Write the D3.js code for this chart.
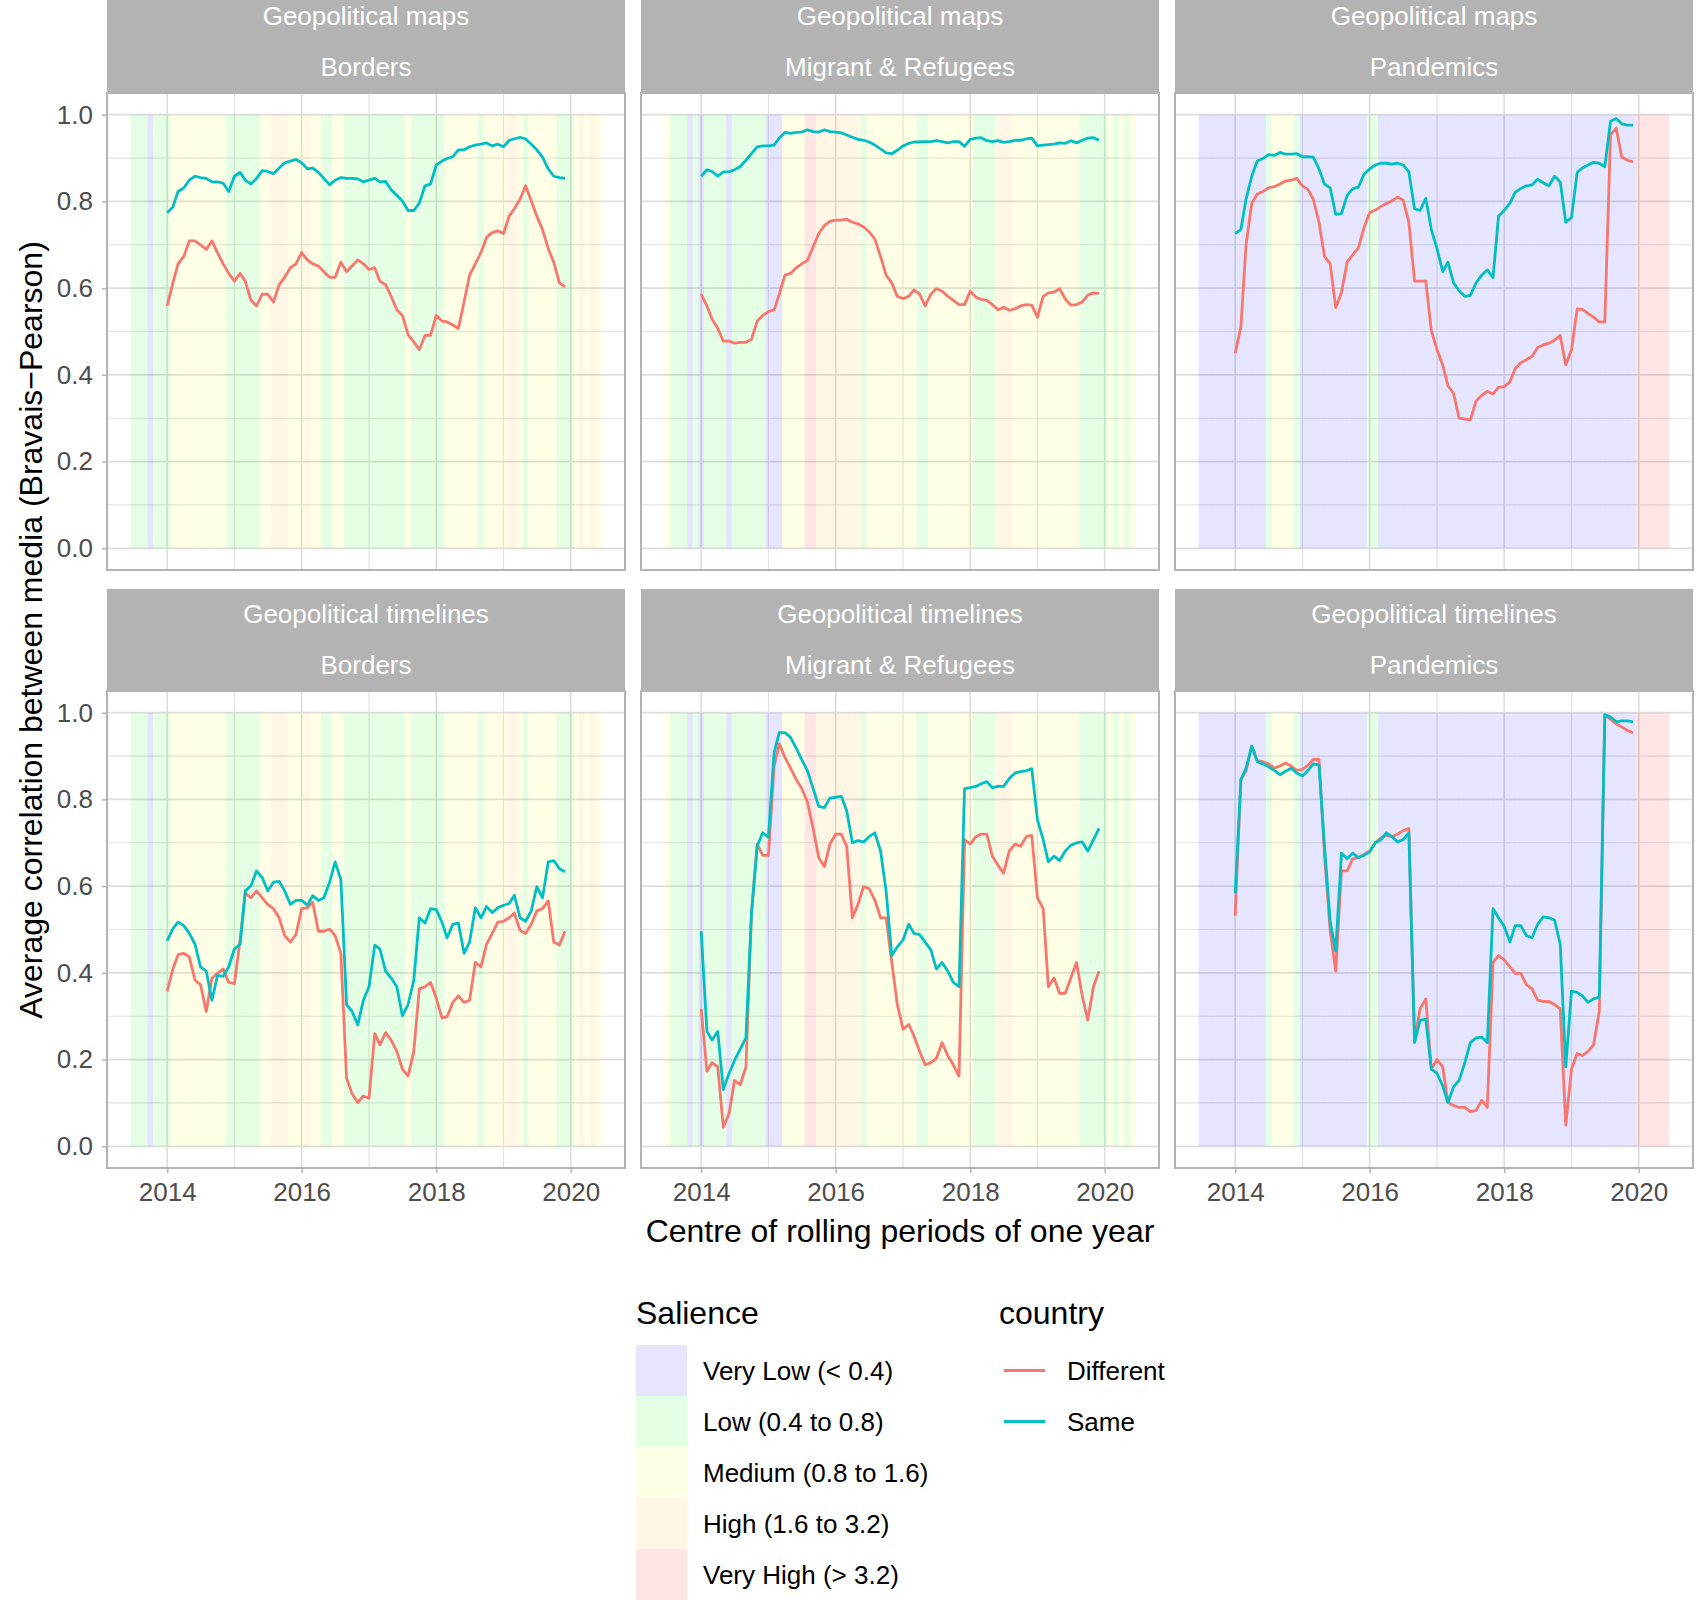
<!DOCTYPE html>
<html>
<head>
<meta charset="utf-8">
<script src="https://cdn.jsdelivr.net/npm/d3@7"></script>
<style>
  body { margin: 0; background: #fff; }
  text { font-family: "Liberation Sans", Arial, sans-serif; }
</style>
</head>
<body>
<svg id="chart" width="1699" height="1600"></svg>
<script>
// facet labels
var rowLabels = ["Geopolitical maps", "Geopolitical timelines"];
var topicLabels = ["Borders", "Migrant & Refugees", "Pandemics"];

// legend
var salienceLabels = ["Very Low (< 0.4)", "Low (0.4 to 0.8)", "Medium (0.8 to 1.6)", "High (1.6 to 3.2)", "Very High (> 3.2)"];
var salienceColours = ["#0000ff", "#00ff00", "#ffff00", "#ffa500", "#ff0000"];
var countryLabels = ["Different", "Same"];
var countryColours = ["#F8766D", "#00BFC4"];

// axes
var xMajorYears = [2014, 2016, 2018, 2020];
var xMinorYears = [2015, 2017, 2019];
var yMajor = [0, 0.2, 0.4, 0.6, 0.8, 1.0];
var yMinor = [0.1, 0.3, 0.5, 0.7, 0.9];

// salience tiles: one per month from Jul 2013 to Jun 2020 (0 = Very Low ... 4 = Very High)
var salienceBorders = [1,1,1,0,1,1,1,2,2,2,2,2,2,2,2,2,2,1,1,1,1,1,1,2,2,3,3,3,2,2,2,3,2,2,1,1,2,2,
  1,1,1,1,1,1,1,1,1,1,1,2,1,1,1,1,1,1,2,2,2,2,2,2,1,2,2,2,2,3,3,2,1,2,2,2,2,2,1,1,1,2,3,2,3,2];
var salienceMigrants = [2,1,1,1,0,1,0,1,1,1,1,0,1,1,1,1,1,1,0,0,0,2,2,2,2,4,4,3,3,3,3,3,3,3,3,1,
  2,2,2,2,2,2,2,2,2,1,1,2,2,2,2,2,2,2,2,1,1,1,1,3,3,3,2,2,2,2,2,2,2,2,2,2,2,2,1,1,1,1,1,2,1,2,1,2];
var saliencePandemics = [0,0,0,0,0,0,0,0,0,0,0,0,1,2,2,2,2,1,0,0,0,0,0,0,0,0,0,0,0,0,1,1,
  0,0,0,0,0,0,0,0,0,0,0,0,0,0,0,0,0,0,0,0,0,0,0,0,0,0,0,0,0,0,0,0,0,0,0,0,0,0,0,0,0,0,0,0,0,0,4,4,4,4,4,4];

// monthly correlation values, Jan 2014 to Dec 2019
var mapsBordersSame = [0.774,0.787,0.823,0.831,0.849,0.858,0.855,0.853,0.845,0.845,0.842,0.823,
  0.858,0.867,0.849,0.840,0.853,0.871,0.869,0.864,0.877,0.889,0.893,0.897,
  0.889,0.875,0.877,0.867,0.853,0.838,0.849,0.855,0.853,0.853,0.852,0.845,
  0.849,0.853,0.845,0.846,0.827,0.814,0.801,0.779,0.779,0.796,0.836,0.840,
  0.884,0.893,0.899,0.903,0.919,0.919,0.926,0.930,0.932,0.935,0.928,0.932,
  0.926,0.941,0.944,0.948,0.944,0.932,0.919,0.902,0.875,0.858,0.855,0.853];
var mapsBordersDiff = [0.559,0.612,0.656,0.673,0.709,0.709,0.700,0.689,0.709,0.682,0.656,0.634,
  0.616,0.634,0.616,0.572,0.559,0.586,0.586,0.568,0.608,0.625,0.647,0.656,
  0.682,0.665,0.656,0.651,0.638,0.625,0.625,0.660,0.638,0.651,0.665,0.656,
  0.643,0.647,0.616,0.608,0.581,0.550,0.537,0.493,0.476,0.458,0.491,0.491,
  0.537,0.524,0.522,0.515,0.507,0.568,0.630,0.656,0.682,0.717,0.728,0.732,
  0.726,0.766,0.783,0.805,0.836,0.801,0.766,0.735,0.691,0.660,0.612,0.603];
var mapsMigrantsSame = [0.858,0.873,0.869,0.858,0.868,0.868,0.873,0.880,0.895,0.910,0.926,0.928,
  0.928,0.930,0.946,0.959,0.957,0.959,0.960,0.965,0.961,0.960,0.965,0.961,
  0.960,0.958,0.953,0.948,0.943,0.941,0.937,0.930,0.921,0.912,0.910,0.918,
  0.928,0.934,0.937,0.937,0.938,0.938,0.940,0.938,0.935,0.938,0.938,0.927,
  0.943,0.946,0.947,0.940,0.938,0.940,0.936,0.938,0.941,0.941,0.944,0.946,
  0.928,0.930,0.931,0.932,0.935,0.934,0.940,0.935,0.941,0.946,0.947,0.941];
var mapsMigrantsDiff = [0.586,0.559,0.529,0.507,0.478,0.478,0.473,0.475,0.475,0.482,0.524,0.537,
  0.546,0.550,0.586,0.630,0.634,0.647,0.656,0.664,0.695,0.726,0.744,0.754,
  0.757,0.757,0.759,0.752,0.748,0.741,0.730,0.713,0.673,0.630,0.612,0.581,
  0.576,0.581,0.596,0.586,0.559,0.586,0.599,0.593,0.581,0.572,0.562,0.562,
  0.593,0.579,0.574,0.572,0.562,0.550,0.556,0.549,0.552,0.559,0.562,0.561,
  0.533,0.581,0.589,0.591,0.599,0.575,0.561,0.562,0.568,0.584,0.589,0.588];
var mapsPandemicsSame = [0.726,0.735,0.805,0.858,0.893,0.899,0.908,0.906,0.913,0.909,0.909,0.910,
  0.903,0.903,0.902,0.875,0.840,0.831,0.770,0.772,0.814,0.829,0.833,0.862,
  0.875,0.884,0.888,0.888,0.886,0.888,0.884,0.868,0.783,0.779,0.807,0.735,
  0.691,0.638,0.660,0.612,0.594,0.581,0.583,0.612,0.630,0.642,0.624,0.766,
  0.779,0.796,0.821,0.830,0.836,0.838,0.851,0.843,0.836,0.858,0.845,0.752,
  0.763,0.867,0.877,0.884,0.890,0.888,0.880,0.985,0.991,0.979,0.976,0.976];
var mapsPandemicsDiff = [0.450,0.511,0.700,0.796,0.817,0.823,0.831,0.834,0.840,0.847,0.849,0.853,
  0.836,0.827,0.805,0.752,0.673,0.656,0.555,0.590,0.660,0.677,0.693,0.739,
  0.774,0.780,0.788,0.795,0.801,0.810,0.803,0.752,0.616,0.616,0.616,0.502,
  0.458,0.423,0.375,0.357,0.300,0.298,0.296,0.340,0.353,0.362,0.356,0.371,
  0.373,0.384,0.414,0.428,0.435,0.443,0.463,0.469,0.473,0.480,0.491,0.423,
  0.458,0.552,0.551,0.542,0.533,0.522,0.522,0.954,0.969,0.902,0.895,0.891];
var timelinesBordersSame = [0.474,0.502,0.517,0.509,0.491,0.466,0.414,0.404,0.337,0.394,0.392,0.414,
  0.455,0.466,0.589,0.601,0.635,0.620,0.589,0.609,0.611,0.589,0.558,0.567,
  0.567,0.556,0.578,0.567,0.573,0.609,0.656,0.615,0.327,0.311,0.280,0.337,
  0.368,0.464,0.455,0.404,0.388,0.368,0.301,0.327,0.383,0.527,0.515,0.548,
  0.546,0.517,0.481,0.512,0.515,0.445,0.471,0.550,0.527,0.553,0.539,0.550,
  0.556,0.560,0.579,0.527,0.519,0.543,0.599,0.573,0.656,0.659,0.640,0.633];
var timelinesBordersDiff = [0.358,0.409,0.442,0.445,0.437,0.383,0.373,0.311,0.388,0.399,0.409,0.378,
  0.375,0.476,0.584,0.573,0.589,0.573,0.558,0.548,0.527,0.486,0.471,0.488,
  0.548,0.550,0.563,0.496,0.496,0.501,0.486,0.445,0.157,0.121,0.101,0.116,
  0.111,0.260,0.234,0.262,0.245,0.219,0.178,0.162,0.219,0.363,0.368,0.378,
  0.342,0.296,0.299,0.332,0.347,0.332,0.337,0.424,0.414,0.466,0.491,0.517,
  0.519,0.527,0.538,0.498,0.491,0.512,0.543,0.548,0.566,0.471,0.464,0.496];
var timelinesMigrantsSame = [0.496,0.265,0.245,0.265,0.131,0.168,0.198,0.224,0.250,0.538,0.692,0.723,
  0.713,0.908,0.954,0.954,0.943,0.918,0.892,0.866,0.825,0.784,0.781,0.803,
  0.805,0.807,0.774,0.700,0.705,0.702,0.714,0.723,0.681,0.589,0.440,0.460,
  0.476,0.512,0.491,0.488,0.471,0.453,0.409,0.424,0.404,0.378,0.368,0.825,
  0.827,0.830,0.836,0.841,0.827,0.830,0.830,0.848,0.861,0.864,0.866,0.871,
  0.753,0.707,0.656,0.669,0.659,0.681,0.694,0.700,0.702,0.681,0.707,0.733];
var timelinesMigrantsDiff = [0.317,0.173,0.193,0.183,0.044,0.075,0.152,0.142,0.183,0.538,0.697,0.671,
  0.671,0.877,0.928,0.897,0.872,0.846,0.825,0.794,0.733,0.666,0.645,0.697,
  0.720,0.720,0.692,0.527,0.558,0.599,0.594,0.568,0.527,0.527,0.424,0.327,
  0.270,0.281,0.255,0.219,0.188,0.193,0.203,0.239,0.209,0.188,0.162,0.707,
  0.697,0.714,0.720,0.720,0.669,0.648,0.630,0.681,0.697,0.692,0.714,0.717,
  0.573,0.548,0.368,0.388,0.353,0.353,0.388,0.424,0.347,0.291,0.368,0.404];
var timelinesPandemicsSame = [0.584,0.846,0.872,0.923,0.887,0.882,0.875,0.867,0.857,0.865,0.872,0.861,
  0.854,0.867,0.882,0.879,0.692,0.517,0.450,0.676,0.663,0.676,0.666,0.671,
  0.679,0.700,0.707,0.723,0.714,0.702,0.707,0.723,0.239,0.291,0.293,0.178,
  0.168,0.139,0.101,0.137,0.152,0.193,0.239,0.250,0.252,0.239,0.548,0.527,
  0.507,0.471,0.509,0.509,0.486,0.481,0.512,0.529,0.527,0.522,0.466,0.183,
  0.358,0.355,0.347,0.332,0.340,0.344,0.995,0.990,0.979,0.981,0.981,0.979];
var timelinesPandemicsDiff = [0.532,0.846,0.866,0.923,0.889,0.887,0.882,0.872,0.877,0.884,0.877,0.867,
  0.869,0.879,0.892,0.892,0.671,0.496,0.404,0.635,0.635,0.663,0.666,0.673,
  0.681,0.700,0.711,0.717,0.714,0.720,0.728,0.733,0.245,0.317,0.340,0.178,
  0.200,0.183,0.101,0.094,0.090,0.090,0.080,0.083,0.106,0.090,0.424,0.440,
  0.430,0.414,0.399,0.399,0.373,0.363,0.337,0.334,0.334,0.327,0.317,0.049,
  0.178,0.214,0.209,0.219,0.234,0.311,0.995,0.985,0.974,0.967,0.959,0.954];

var panels = [
  { row: 0, col: 0, salience: salienceBorders, diff: mapsBordersDiff, same: mapsBordersSame },
  { row: 0, col: 1, salience: salienceMigrants, diff: mapsMigrantsDiff, same: mapsMigrantsSame },
  { row: 0, col: 2, salience: saliencePandemics, diff: mapsPandemicsDiff, same: mapsPandemicsSame },
  { row: 1, col: 0, salience: salienceBorders, diff: timelinesBordersDiff, same: timelinesBordersSame },
  { row: 1, col: 1, salience: salienceMigrants, diff: timelinesMigrantsDiff, same: timelinesMigrantsSame },
  { row: 1, col: 2, salience: saliencePandemics, diff: timelinesPandemicsDiff, same: timelinesPandemicsSame }
];

// layout
var colX = [107, 641, 1175];
var panelW = 518;
var stripTop = [-9, 589];
var stripH = 102;
var plotH = 477;

var tileMonths = d3.timeMonth.range(new Date(2013, 6, 1), new Date(2020, 6, 1));
var lineMonths = d3.timeMonth.range(new Date(2014, 0, 1), new Date(2020, 0, 1));

// tile edges halfway between month starts
function tileEdges(m) {
  var prev = d3.timeMonth.offset(m, -1), next = d3.timeMonth.offset(m, 1);
  return [new Date((+prev + +m) / 2), new Date((+m + +next) / 2)];
}
var lo = tileEdges(tileMonths[0])[0];
var hi = tileEdges(tileMonths[tileMonths.length - 1])[1];
var span = hi - lo;

var x = d3.scaleTime()
  .domain([new Date(+lo - 0.05 * span), new Date(+hi + 0.05 * span)])
  .range([0, panelW]);
var y = d3.scaleLinear().domain([-0.05, 1.05]).range([plotH, 0]);

var svg = d3.select("#chart");
svg.append("rect").attr("width", 1699).attr("height", 1600).attr("fill", "#fff");

var line = d3.line()
  .x(function(d, i) { return x(lineMonths[i]); })
  .y(function(d) { return y(d); });

panels.forEach(function(p) {
  var px = colX[p.col], sTop = stripTop[p.row], pTop = sTop + stripH;

  // strip
  var strip = svg.append("g").attr("transform", "translate(" + px + "," + sTop + ")");
  strip.append("rect").attr("width", panelW).attr("height", stripH).attr("fill", "#B3B3B3");
  strip.append("text").attr("x", panelW / 2).attr("y", 25).attr("text-anchor", "middle")
    .attr("dominant-baseline", "central").attr("fill", "#fff").style("font-size", "26px")
    .text(rowLabels[p.row]);
  strip.append("text").attr("x", panelW / 2).attr("y", 76).attr("text-anchor", "middle")
    .attr("dominant-baseline", "central").attr("fill", "#fff").style("font-size", "26px")
    .text(topicLabels[p.col]);

  var g = svg.append("g").attr("transform", "translate(" + px + "," + pTop + ")");
  g.append("rect").attr("width", panelW).attr("height", plotH).attr("fill", "#fff");

  // grid
  g.selectAll("line.ymin").data(yMinor).enter().append("line")
    .attr("x1", 0).attr("x2", panelW).attr("y1", y).attr("y2", y)
    .attr("stroke", "#E3E3E3").attr("stroke-width", 1.2);
  g.selectAll("line.xmin").data(xMinorYears).enter().append("line")
    .attr("y1", 0).attr("y2", plotH)
    .attr("x1", function(d) { return x(new Date(d, 0, 1)); })
    .attr("x2", function(d) { return x(new Date(d, 0, 1)); })
    .attr("stroke", "#E3E3E3").attr("stroke-width", 1.2);
  g.selectAll("line.ymaj").data(yMajor).enter().append("line")
    .attr("x1", 0).attr("x2", panelW).attr("y1", y).attr("y2", y)
    .attr("stroke", "#DEDEDE").attr("stroke-width", 1.7);
  g.selectAll("line.xmaj").data(xMajorYears).enter().append("line")
    .attr("y1", 0).attr("y2", plotH)
    .attr("x1", function(d) { return x(new Date(d, 0, 1)); })
    .attr("x2", function(d) { return x(new Date(d, 0, 1)); })
    .attr("stroke", "#DEDEDE").attr("stroke-width", 1.7);

  // salience tiles
  g.selectAll("rect.tile").data(p.salience).enter().append("rect")
    .attr("class", "tile")
    .attr("x", function(d, i) { return x(tileEdges(tileMonths[i])[0]); })
    .attr("width", function(d, i) {
      var e = tileEdges(tileMonths[i]);
      return x(e[1]) - x(e[0]);
    })
    .attr("y", y(1)).attr("height", y(0) - y(1))
    .attr("fill", function(d) { return salienceColours[d]; })
    .attr("fill-opacity", 0.1);

  // lines
  g.append("path").datum(p.diff).attr("d", line).attr("fill", "none")
    .attr("stroke", countryColours[0]).attr("stroke-width", 2.8).attr("stroke-linejoin", "round");
  g.append("path").datum(p.same).attr("d", line).attr("fill", "none")
    .attr("stroke", countryColours[1]).attr("stroke-width", 2.8).attr("stroke-linejoin", "round");

  g.append("rect").attr("width", panelW).attr("height", plotH)
    .attr("fill", "none").attr("stroke", "#B3B3B3").attr("stroke-width", 2);

  // y axis on first column
  if (p.col === 0) {
    var ya = d3.axisLeft(y).tickValues(yMajor).tickFormat(d3.format(".1f")).tickSize(5).tickPadding(9);
    var yg = g.append("g").call(ya);
    yg.select(".domain").remove();
    yg.selectAll(".tick line").attr("stroke", "#B3B3B3").attr("stroke-width", 1.5);
    yg.selectAll(".tick text").attr("fill", "#4D4D4D").style("font-size", "26px")
      .style("font-family", "Liberation Sans, Arial, sans-serif");
  }
  // x axis on bottom row
  if (p.row === 1) {
    var xa = d3.axisBottom(x).tickValues(xMajorYears.map(function(d) { return new Date(d, 0, 1); }))
      .tickFormat(d3.timeFormat("%Y")).tickSize(5).tickPadding(10);
    var xg = g.append("g").attr("transform", "translate(0," + plotH + ")").call(xa);
    xg.select(".domain").remove();
    xg.selectAll(".tick line").attr("stroke", "#B3B3B3").attr("stroke-width", 1.5);
    xg.selectAll(".tick text").attr("fill", "#4D4D4D").style("font-size", "26px")
      .style("font-family", "Liberation Sans, Arial, sans-serif");
  }
});

// axis titles
svg.append("text").attr("x", 900).attr("y", 1231).attr("text-anchor", "middle")
  .attr("dominant-baseline", "central").style("font-size", "32px").attr("fill", "#000")
  .text("Centre of rolling periods of one year");
svg.append("text").attr("transform", "translate(31,630) rotate(-90)").attr("text-anchor", "middle")
  .attr("dominant-baseline", "central").style("font-size", "32px").attr("fill", "#000")
  .text("Average correlation between media (Bravais\u2212Pearson)");

// legends
var leg = svg.append("g").attr("transform", "translate(636,1313)");
leg.append("text").attr("dominant-baseline", "central").style("font-size", "32px").text("Salience");
var keyH = 51;
var items = leg.selectAll("g.sal").data(salienceLabels).enter().append("g")
  .attr("transform", function(d, i) { return "translate(0," + (32 + i * keyH) + ")"; });
items.append("rect").attr("width", 51).attr("height", keyH)
  .attr("fill", function(d, i) { return salienceColours[i]; }).attr("fill-opacity", 0.1);
items.append("text").attr("x", 67).attr("y", keyH / 2).attr("dominant-baseline", "central")
  .style("font-size", "26px").text(function(d) { return d; });

var leg2 = svg.append("g").attr("transform", "translate(999,1313)");
leg2.append("text").attr("dominant-baseline", "central").style("font-size", "32px").text("country");
var items2 = leg2.selectAll("g.cty").data(countryLabels).enter().append("g")
  .attr("transform", function(d, i) { return "translate(0," + (32 + i * keyH) + ")"; });
items2.append("line").attr("x1", 5).attr("x2", 46).attr("y1", keyH / 2).attr("y2", keyH / 2)
  .attr("stroke", function(d, i) { return countryColours[i]; }).attr("stroke-width", 2.8);
items2.append("text").attr("x", 68).attr("y", keyH / 2).attr("dominant-baseline", "central")
  .style("font-size", "26px").text(function(d) { return d; });
</script>
</body>
</html>
